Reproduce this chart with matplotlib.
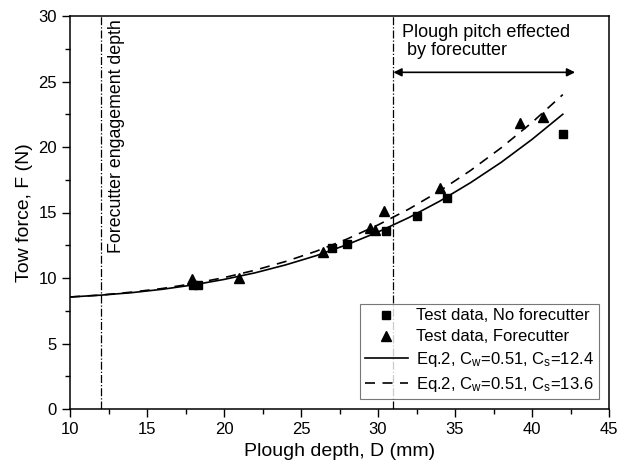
import matplotlib
matplotlib.use("Agg")
import matplotlib.pyplot as plt

# ---- data ----
nofc_depth = [18.0, 18.3, 27.0, 28.0, 30.5, 32.5, 34.5, 42.0]
nofc_force = [9.5, 9.5, 12.3, 12.6, 13.6, 14.7, 16.1, 21.0]

fc_depth = [17.9, 21.0, 26.4, 29.5, 29.8, 30.4, 34.0, 39.2, 40.7]
fc_force = [9.9, 10.0, 12.0, 13.8, 13.7, 15.1, 16.9, 21.8, 22.3]

eq_depth = [10, 12, 14, 16, 18, 20, 22, 24, 26, 28, 30, 32, 34, 36, 38, 40, 42]
eq_force_cs124 = [8.55, 8.69, 8.88, 9.14, 9.47, 9.89, 10.39, 11.0, 11.71,
                  12.55, 13.51, 14.61, 15.86, 17.27, 18.83, 20.58, 22.5]
eq_force_cs136 = [8.55, 8.70, 8.92, 9.20, 9.57, 10.03, 10.59, 11.26, 12.05,
                  12.98, 14.05, 15.26, 16.64, 18.2, 19.94, 21.87, 24.0]

engage_depth = 12
pitch_depth = 31
pitch_end = 42.8

# ---- style ----
plt.rcParams["font.family"] = ["Liberation Sans", "DejaVu Sans"]
plt.rcParams["mathtext.fontset"] = "custom"
plt.rcParams["mathtext.rm"] = "Liberation Sans"
plt.rcParams["mathtext.it"] = "Liberation Sans"

fig = plt.figure(figsize=(6.17, 4.71), dpi=100)
ax = fig.add_axes([70 / 617, 62 / 471, 539 / 617, 393 / 471])

ax.plot(eq_depth, eq_force_cs124, color="black", lw=1.2,
        label=r"Eq.2, C$_\mathrm{w}$=0.51, C$_\mathrm{s}$=12.4")
ax.plot(eq_depth, eq_force_cs136, color="black", lw=1.2, dashes=(6, 4.5),
        label=r"Eq.2, C$_\mathrm{w}$=0.51, C$_\mathrm{s}$=13.6")
ax.plot(nofc_depth, nofc_force, ls="none", marker="s", ms=5.5, color="black",
        label="Test data, No forecutter")
ax.plot(fc_depth, fc_force, ls="none", marker="^", ms=7, color="black",
        label="Test data, Forecutter")

# vertical reference lines
ax.axvline(engage_depth, color="black", lw=0.9, ls="-.")
ax.axvline(pitch_depth, color="black", lw=0.9, ls="-.")

ax.text(engage_depth + 0.45, 29.75, "Forecutter engagement depth", rotation=90,
        ha="left", va="top", fontsize=12.8)
ax.text(pitch_depth + 0.55, 29.4, "Plough pitch effected\n by forecutter",
        ha="left", va="top", fontsize=13, linespacing=1.1)
ax.annotate("", xy=(pitch_end, 25.7), xytext=(pitch_depth, 25.7),
            arrowprops=dict(arrowstyle="<|-|>", color="black", lw=1.2,
                            mutation_scale=12, shrinkA=0, shrinkB=0))

ax.set_xlim(10, 45)
ax.set_ylim(0, 30)
ax.set_xticks(range(10, 46, 5))
ax.set_yticks(range(0, 31, 5))
ax.set_xticks([12.5 + 5 * i for i in range(7)], minor=True)
ax.set_yticks([2.5 + 5 * i for i in range(6)], minor=True)
ax.tick_params(which="major", direction="out", length=6, width=1,
               labelsize=12, top=False, right=False)
ax.tick_params(which="minor", direction="out", length=3.5, width=1,
               top=False, right=False)
for s in ax.spines.values():
    s.set_linewidth(1.1)

ax.set_xlabel("Plough depth, D (mm)", fontsize=14)
ax.set_ylabel("Tow force, F (N)", fontsize=14)

handles, labels = ax.get_legend_handles_labels()
order = [2, 3, 0, 1]
leg = ax.legend([handles[i] for i in order], [labels[i] for i in order],
                loc="lower right", fontsize=12, frameon=True, fancybox=False,
                edgecolor="#555555", handlelength=2.6, borderpad=0.3,
                labelspacing=0.35, handletextpad=0.5, borderaxespad=0.6)
leg.get_frame().set_linewidth(0.8)

fig.savefig("out.png", dpi=100)
